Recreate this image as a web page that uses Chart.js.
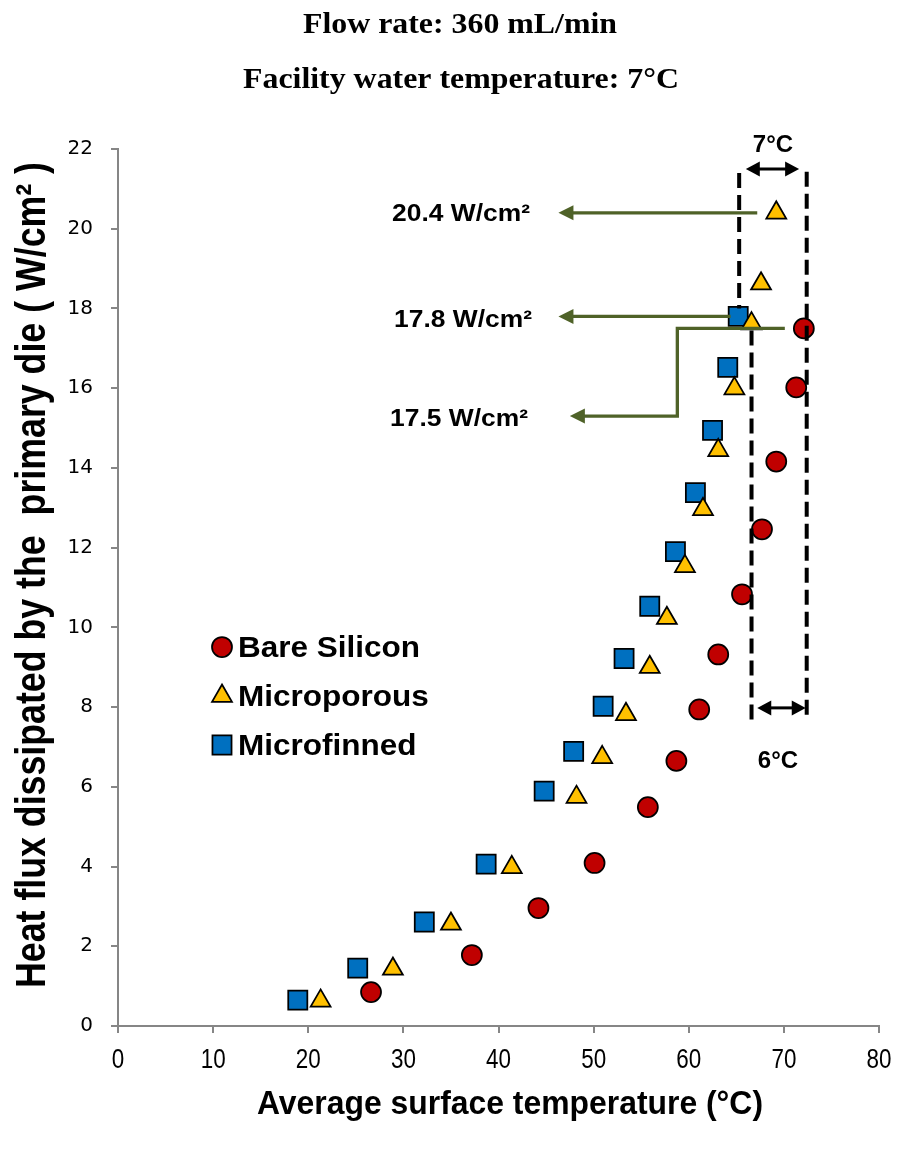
<!DOCTYPE html>
<html>
<head>
<meta charset="utf-8">
<script src="https://cdn.jsdelivr.net/npm/chart.js@4.4.1/dist/chart.umd.min.js"></script>
<style>
  html, body { margin: 0; padding: 0; background: #fff; }
  canvas { display: block; }
</style>
</head>
<body>
<canvas id="fluxChart" width="897" height="1151"></canvas>
<script>
// average surface temperature (°C) / heat flux on the primary die (W/cm²)
const bareTemp = [26.6, 37.2, 44.2, 50.1, 55.7, 58.7, 61.1, 63.1, 65.6, 67.7, 69.2, 71.3, 72.1];
const bareFlux = [0.85, 1.78, 2.96, 4.09, 5.49, 6.65, 7.94, 9.32, 10.83, 12.46, 14.16, 16.02, 17.5];

const poroTemp = [21.3, 28.9, 35.0, 41.4, 48.2, 50.9, 53.4, 55.9, 57.7, 59.6, 61.5, 63.1, 64.8, 66.6, 67.6, 69.2];
const poroFlux = [0.63, 1.43, 2.56, 3.98, 5.74, 6.74, 7.82, 9.0, 10.23, 11.53, 12.96, 14.44, 15.99, 17.62, 18.62, 20.4];

const finTemp = [18.9, 25.2, 32.2, 38.7, 44.8, 47.9, 51.0, 53.2, 55.9, 58.6, 60.7, 62.5, 64.1, 65.2];
const finFlux = [0.65, 1.45, 2.61, 4.06, 5.89, 6.89, 8.02, 9.22, 10.53, 11.9, 13.38, 14.94, 16.52, 17.8];

const seriesNames = ['Bare Silicon', 'Microporous', 'Microfinned'];
const xTicks = [0, 10, 20, 30, 40, 50, 60, 70, 80];
const yTicks = [0, 2, 4, 6, 8, 10, 12, 14, 16, 18, 20, 22];

const AXIS_GREY = '#868686';
const ARROW_GREEN = '#4F6228';
const SANS = '"Liberation Sans", Arial, sans-serif';

const toPoints = (xs, ys) => xs.map((x, i) => ({ x, y: ys[i] }));

// draws text squeezed/stretched horizontally by sx
function drawText(ctx, text, x, y, font, align, sx) {
  ctx.save();
  ctx.font = font;
  ctx.fillStyle = '#000';
  ctx.textAlign = align;
  ctx.textBaseline = 'alphabetic';
  ctx.translate(x, y);
  ctx.scale(sx, 1);
  ctx.fillText(text, 0, 0);
  ctx.restore();
}

// draws text so it spans exactly `width` px
function fitText(ctx, text, x, y, font, align, width) {
  ctx.save();
  ctx.font = font;
  const sx = width / ctx.measureText(text).width;
  ctx.restore();
  drawText(ctx, text, x, y, font, align, sx);
}

function arrowHead(ctx, tipX, tipY, dir, len, half, color) {
  ctx.beginPath();
  ctx.moveTo(tipX, tipY);
  ctx.lineTo(tipX - dir * len, tipY - half);
  ctx.lineTo(tipX - dir * len, tipY + half);
  ctx.closePath();
  ctx.fillStyle = color;
  ctx.fill();
}

const markerStyles = [
  { pointStyle: 'circle', radius: 10, backgroundColor: '#C00000' },
  { pointStyle: 'triangle', radius: 11.5, backgroundColor: '#FFC000' },
  { pointStyle: 'rect', radius: 13.5, backgroundColor: '#0070C0' }
];

// titles, condensed x tick labels, axis titles and the hand-made legend
const textPlugin = {
  id: 'textPlugin',
  afterDraw(chart) {
    const { ctx } = chart;
    const xScale = chart.scales.x;
    const serif = '"Liberation Serif", "Times New Roman", serif';
    fitText(ctx, 'Flow rate: 360 mL/min', 460, 33, 'bold 29px ' + serif, 'center', 314);
    fitText(ctx, 'Facility water temperature: 7°C', 461, 88, 'bold 29px ' + serif, 'center', 436);

    xScale.ticks.forEach(t => {
      drawText(ctx, String(t.value), xScale.getPixelForValue(t.value), 1068, '27px ' + SANS, 'center', 0.83);
    });

    fitText(ctx, 'Average surface temperature (°C)', 510, 1114, 'bold 34px ' + SANS, 'center', 506);

    ctx.save();
    ctx.translate(45, 575);
    ctx.rotate(-Math.PI / 2);
    fitText(ctx, 'Heat flux dissipated by the  primary die ( W/cm² )', 0, 0, 'bold 42px ' + SANS, 'center', 826);
    ctx.restore();

    // legend
    const rows = [647, 696, 745];
    rows.forEach((cy, i) => {
      const m = markerStyles[i];
      ctx.save();
      ctx.fillStyle = m.backgroundColor;
      ctx.strokeStyle = '#000';
      ctx.lineWidth = 1.75;
      Chart.helpers.drawPoint(ctx, { pointStyle: m.pointStyle, radius: m.radius, rotation: 0, borderWidth: 1.75 }, 222, cy);
      ctx.restore();
      drawText(ctx, seriesNames[i], 238, cy + 10, 'bold 30px ' + SANS, 'left', 1.05);
    });
  }
};

// dashed bounds, temperature spans and the flux call-outs
const annotationPlugin = {
  id: 'annotationPlugin',
  afterDatasetsDraw(chart) {
    const { ctx, scales: { x, y } } = chart;
    const px = v => x.getPixelForValue(v);
    const py = v => y.getPixelForValue(v);

    ctx.save();
    ctx.strokeStyle = '#000';
    ctx.lineWidth = 4;
    ctx.setLineDash([15, 7]);
    [[65.3, 21.4, 18.0], [66.6, 17.45, 7.68], [72.4, 21.43, 7.68]].forEach(([t, y0, y1]) => {
      ctx.beginPath();
      ctx.moveTo(px(t), py(y0));
      ctx.lineTo(px(t), py(y1));
      ctx.stroke();
    });
    ctx.setLineDash([]);

    // double-headed span arrows
    ctx.lineWidth = 3;
    [[66.0, 71.6, 21.5], [67.2, 72.3, 7.98]].forEach(([a, b, v]) => {
      const x0 = px(a), x1 = px(b), yy = py(v);
      ctx.beginPath();
      ctx.moveTo(x0 + 10, yy);
      ctx.lineTo(x1 - 10, yy);
      ctx.stroke();
      arrowHead(ctx, x0, yy, -1, 14, 7.5, '#000');
      arrowHead(ctx, x1, yy, 1, 14, 7.5, '#000');
    });
    ctx.restore();

    drawText(ctx, '7°C', 773, 152, 'bold 24px ' + SANS, 'center', 1.0);
    drawText(ctx, '6°C', 778, 768, 'bold 24px ' + SANS, 'center', 1.0);

    // green call-out arrows
    ctx.save();
    ctx.strokeStyle = ARROW_GREEN;
    ctx.lineWidth = 3.3;
    const callouts = [
      [[67.2, 20.4], [46.3, 20.4]],
      [[64.4, 17.8], [46.3, 17.8]],
      [[70.1, 17.5], [58.8, 17.5], [58.8, 15.3], [47.5, 15.3]]
    ];
    callouts.forEach(path => {
      const pts = path.map(([a, b]) => [px(a), py(b)]);
      const tip = pts[pts.length - 1];
      ctx.beginPath();
      ctx.moveTo(pts[0][0], pts[0][1]);
      pts.slice(1, -1).forEach(p => ctx.lineTo(p[0], p[1]));
      ctx.lineTo(tip[0] + 10, tip[1]);
      ctx.stroke();
      arrowHead(ctx, tip[0], tip[1], -1, 15, 7.5, ARROW_GREEN);
    });
    ctx.restore();

    const calloutFont = 'bold 24px ' + SANS;
    drawText(ctx, '20.4 W/cm²', 530, 221, calloutFont, 'right', 1.1);
    drawText(ctx, '17.8 W/cm²', 532, 327, calloutFont, 'right', 1.1);
    drawText(ctx, '17.5 W/cm²', 528, 426, calloutFont, 'right', 1.1);
  }
};

const datasets = [
  toPoints(bareTemp, bareFlux),
  toPoints(poroTemp, poroFlux),
  toPoints(finTemp, finFlux)
].map((data, i) => ({
  label: seriesNames[i],
  data,
  pointStyle: markerStyles[i].pointStyle,
  pointRadius: markerStyles[i].radius,
  pointHoverRadius: markerStyles[i].radius,
  backgroundColor: markerStyles[i].backgroundColor,
  borderColor: '#000',
  borderWidth: 1.75,
  showLine: false
}));

new Chart(document.getElementById('fluxChart').getContext('2d'), {
  type: 'scatter',
  data: { datasets },
  plugins: [annotationPlugin, textPlugin],
  options: {
    responsive: false,
    animation: false,
    events: [],
    layout: { padding: { top: 149, left: 0, right: 18, bottom: 0 } },
    plugins: {
      legend: { display: false },
      tooltip: { enabled: false }
    },
    scales: {
      x: {
        type: 'linear',
        min: 0,
        max: 80,
        afterBuildTicks: s => { s.ticks = xTicks.map(v => ({ value: v })); },
        afterFit: s => { s.height = 125; },
        border: { color: AXIS_GREY, width: 2 },
        grid: { drawOnChartArea: false, drawTicks: true, tickLength: 7, color: AXIS_GREY, lineWidth: 2 },
        // labels are drawn condensed in textPlugin
        ticks: { display: false }
      },
      y: {
        type: 'linear',
        min: 0,
        max: 22,
        afterBuildTicks: s => { s.ticks = yTicks.map(v => ({ value: v })); },
        afterFit: s => { s.width = 118; },
        border: { color: AXIS_GREY, width: 2 },
        grid: { drawOnChartArea: false, drawTicks: true, tickLength: 7, color: AXIS_GREY, lineWidth: 2 },
        ticks: {
          color: '#000',
          padding: 18,
          font: { family: '"DejaVu Sans", Verdana, sans-serif', size: 20 }
        }
      }
    }
  }
});
</script>
</body>
</html>
